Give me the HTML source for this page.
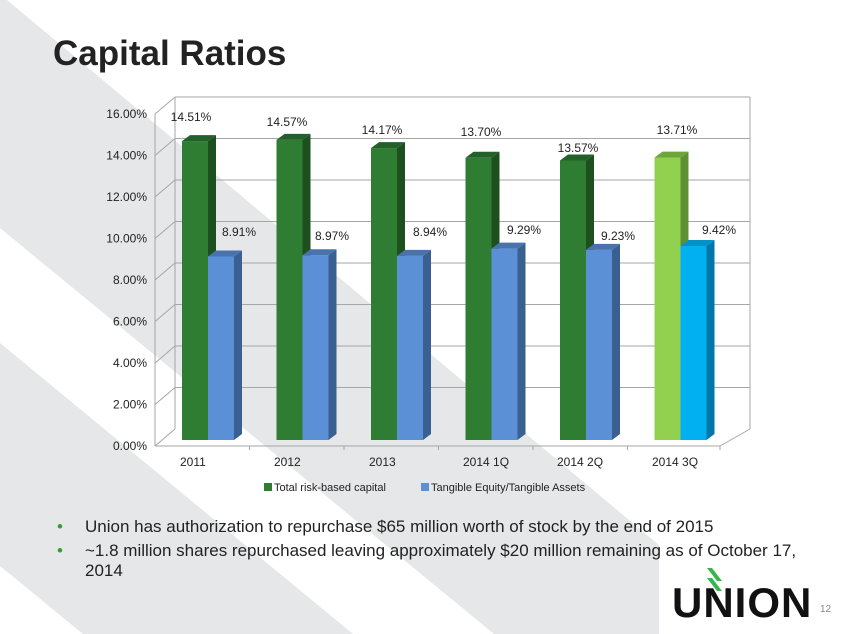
<!DOCTYPE html>
<html><head><meta charset="utf-8"><style>
body{margin:0;width:847px;height:634px;overflow:hidden;background:#fff;font-family:"Liberation Sans",sans-serif;position:relative}
.t{position:absolute;left:53px;top:34px;font-size:35px;font-weight:bold;color:#222}
.b{position:absolute;left:58px;font-size:17px;color:#222;line-height:20px}
.b span{color:#3a9d3a;position:absolute;left:-1px}
.b div{padding-left:27px}
</style></head><body>
<svg width="847" height="634" style="position:absolute;left:0;top:0">
<polygon points="0,0 7,0 659,545 659,634 494,634 0,228" fill="#e6e7e9"/>
<polygon points="0,343 353,634 83,634 0,566" fill="#e6e7e9"/>
<g font-family="Liberation Sans, sans-serif" font-size="12" fill="#222">
<g stroke="#a6a6a6" stroke-width="1" fill="none">
<line x1="175" y1="97" x2="175" y2="429"/>
<line x1="155" y1="114" x2="155" y2="446"/>
<line x1="750" y1="429" x2="720" y2="446"/>
<line x1="155" y1="446" x2="720" y2="446"/>
<line x1="249.5" y1="446" x2="249.5" y2="450"/><line x1="344" y1="446" x2="344" y2="450"/>
<line x1="438.5" y1="446" x2="438.5" y2="450"/><line x1="533" y1="446" x2="533" y2="450"/>
<line x1="627.5" y1="446" x2="627.5" y2="450"/><line x1="720" y1="446" x2="720" y2="450"/>
</g>
<g id="grid" stroke="#a6a6a6" fill="none"></g>
</g>
<g id="bars"></g>
<g id="labs" font-family="Liberation Sans, sans-serif" font-size="12" fill="#222"></g>
<g font-family="Liberation Sans, sans-serif" font-size="12" fill="#222">
<text x="180" y="466">2011</text><text x="274" y="466">2012</text><text x="369" y="466">2013</text>
<text x="463" y="466">2014 1Q</text><text x="557" y="466">2014 2Q</text><text x="652" y="466">2014 3Q</text>
<rect x="264" y="483" width="8" height="8" fill="#2e7d32"/><text x="274" y="491" font-size="11">Total risk-based capital</text>
<rect x="421" y="483" width="8" height="8" fill="#5b8fd6"/><text x="431" y="491" font-size="11">Tangible Equity/Tangible Assets</text>
<text x="820" y="612" font-size="10" fill="#888">12</text>
<text x="672" y="617" font-size="42" font-weight="bold" fill="#111" letter-spacing="1">UNION</text>
<polygon points="707,568 712,568 722,581 717,581" fill="#3ab54a"/>
<polygon points="707,578 712,578 722,591 717,591" fill="#3ab54a"/>
</g>
</svg>
<div class="t">Capital Ratios</div>
<div class="b" style="top:517px;left:58px;width:740px"><span>•</span><div>Union has authorization to repurchase $65 million worth of stock by the end of 2015</div></div>
<div class="b" style="top:541px;left:58px;width:760px"><span>•</span><div>~1.8 million shares repurchased leaving approximately $20 million remaining as of October 17, 2014</div></div>
<script>
var ns="http://www.w3.org/2000/svg";
function el(p,t,a,tx){var e=document.createElementNS(ns,t);for(var k in a)e.setAttribute(k,a[k]);if(tx)e.textContent=tx;p.appendChild(e);return e;}
var g=document.getElementById("grid"),labs=document.getElementById("labs"),bars=document.getElementById("bars");
for(var i=0;i<=8;i++){var yb=97+i*41.5,yf=114+i*41.5;
 if(i<8){el(g,"line",{x1:175,y1:yb,x2:750,y2:yb});}
 el(g,"line",{x1:155,y1:yf,x2:175,y2:yb});
 el(labs,"text",{x:147,y:yf+4,"text-anchor":"end"},(16-2*i).toFixed(2)+"%");}
el(g,"line",{x1:750,y1:97,x2:750,y2:429});
var G=[14.51,14.57,14.17,13.70,13.57,13.71],B=[8.91,8.97,8.94,9.29,9.23,9.42];
var gl=[[191,121],[287,126],[382,134],[481,136],[578,152],[677,134]];
var bl=[[239,236],[332,240],[430,236],[524,234],[618,240],[719,234]];
function bar(x,v,f,s,tp){var y=440-v*20.6;
 el(bars,"rect",{x:x,y:y,width:26,height:440-y,fill:f});
 el(bars,"polygon",{points:[x+26,y,x+34,y-6,x+34,434,x+26,440].join(" "),fill:s});
 el(bars,"polygon",{points:[x,y,x+8,y-6,x+34,y-6,x+26,y].join(" "),fill:tp});}
for(var i=0;i<6;i++){var x=182+i*94.5;
 var last=i==5;
 bar(x,G[i],last?"#92d050":"#2e7d32",last?"#5f8f33":"#1d4f1f",last?"#6ea63a":"#23602a");
 bar(x+26,B[i],last?"#00b0f0":"#5b8fd6",last?"#0077a8":"#3a5f91",last?"#0092c8":"#4a73ad");
 el(labs,"text",{x:gl[i][0],y:gl[i][1],"text-anchor":"middle"},G[i].toFixed(2)+"%");
 el(labs,"text",{x:bl[i][0],y:bl[i][1],"text-anchor":"middle"},B[i].toFixed(2)+"%");}
</script>
</body></html>
